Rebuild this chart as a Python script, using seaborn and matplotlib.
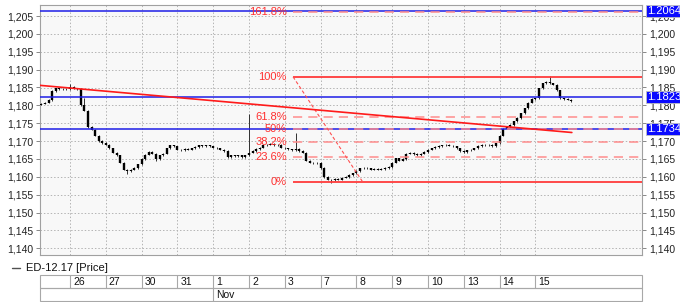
import matplotlib
matplotlib.use("Agg")
import matplotlib.pyplot as plt
import matplotlib.transforms as mtransforms
from matplotlib.patches import Rectangle
from matplotlib.ticker import FuncFormatter, MultipleLocator
import numpy as np
import pandas as pd
import seaborn as sns

# ---------------- data ----------------
day_labels = ["26", "27", "30", "31", "1", "2", "3", "7", "8", "9", "10", "13", "14", "15"]
month_label = "Nov"
month_start_day = 4           # index of "1"
bars_per_day = 10
first_bar_t = -0.8            # first bar inside the partial day before "26"

closes = [
    1.1805, 1.1808, 1.1815, 1.1840, 1.1848, 1.1845, 1.1847, 1.1846, 1.1852, 1.1848,
    1.1846, 1.1800, 1.1785, 1.1740, 1.1732, 1.1715, 1.1700, 1.1695, 1.1690, 1.1680,
    1.1668, 1.1660, 1.1640, 1.1620, 1.1615, 1.1620, 1.1625, 1.1635, 1.1650, 1.1662,
    1.1670, 1.1665, 1.1650, 1.1660, 1.1665, 1.1680, 1.1688, 1.1685, 1.1676, 1.1674,
    1.1678, 1.1676, 1.1680, 1.1684, 1.1688, 1.1686, 1.1688, 1.1685, 1.1682, 1.1680,
    1.1676, 1.1672, 1.1655, 1.1660, 1.1658, 1.1660, 1.1656, 1.1660, 1.1668, 1.1672,
    1.1678, 1.1682, 1.1688, 1.1690, 1.1692, 1.1688, 1.1690, 1.1682, 1.1680, 1.1677,
    1.1674, 1.1678, 1.1672, 1.1668, 1.1645, 1.1640, 1.1638, 1.1640, 1.1625, 1.1600,
    1.1592, 1.1590, 1.1594, 1.1592, 1.1598, 1.1600, 1.1605, 1.1610, 1.1616, 1.1624,
    1.1626, 1.1624, 1.1620, 1.1622, 1.1620, 1.1622, 1.1625, 1.1628, 1.1640, 1.1652,
    1.1645, 1.1650, 1.1665, 1.1668, 1.1664, 1.1660, 1.1665, 1.1670, 1.1676, 1.1680,
    1.1684, 1.1686, 1.1688, 1.1690, 1.1687, 1.1685, 1.1680, 1.1672, 1.1670, 1.1674,
    1.1676, 1.1680, 1.1686, 1.1690, 1.1688, 1.1690, 1.1686, 1.1694, 1.1715, 1.1735,
    1.1740, 1.1745, 1.1755, 1.1765, 1.1778, 1.1792, 1.1808, 1.1818, 1.1820, 1.1848,
    1.1862, 1.1865, 1.1862, 1.1858, 1.1842, 1.1820, 1.1818, 1.1816, 1.1812,
]
first_open = 1.1802

spike_bars = [8, 12, 58, 71, 142, 24, 32, 81]
spike_high = [1.1857, 1.1818, 1.1774, 1.1722, 1.1880, None, None, None]
spike_low = [None, None, None, None, None, 1.1610, 1.1645, 1.1585]

blue_levels = [1.2064, 1.1823, 1.1734]
blue_labels = ["1.2064", "1.1823", "1.1734"]

fib_low, fib_high = 1.1585, 1.1880
fib_ratios = [0.0, 23.6, 38.2, 50.0, 61.8, 100.0, 161.8]
fib_labels = ["0%", "23.6%", "38.2%", "50%", "61.8%", "100%", "161.8%"]
fib_start_t = 6.23
fib_diag_end_t = 8.18

trend_t = [-0.84, 14.02]
trend_price = [1.1856, 1.1724]

y_ticks = [1.140, 1.145, 1.150, 1.155, 1.160, 1.165, 1.170, 1.175,
           1.180, 1.185, 1.190, 1.195, 1.200, 1.205]
series_name = "ED-12.17 [Price]"

# ---------------- style ----------------
sns.set_style("white")
plt.rcParams["font.family"] = ["Liberation Sans", "DejaVu Sans"]

W, H = 680, 302
fig = plt.figure(figsize=(W / 100, H / 100), dpi=100, facecolor="white")
L, R, T, B = 40, 642, 5, 255
ax = fig.add_axes([L / W, (H - B) / H, (R - L) / W, (B - T) / H])
ax.set_facecolor("#f8f8f8")
x_lo, x_hi = -0.84, 15.98
ax.set_xlim(x_lo, x_hi)
ax.set_ylim(1.1381, 1.2081)
for s in ax.spines.values():
    s.set_color("#a0a0a0")
    s.set_linewidth(0.8)

# grid
for yv in y_ticks:
    ax.axhline(yv, color="#b4b4b4", lw=0.7, ls=(0, (1.5, 2)), zorder=0)
for i in range(len(day_labels)):
    ax.axvline(i, color="#b4b4b4", lw=0.7, ls=(0, (1.5, 2)), zorder=0)

# ticks
ax.yaxis.set_major_locator(MultipleLocator(0.005))
ax.yaxis.set_major_formatter(FuncFormatter(lambda v, p: f"{v:.3f}".replace(".", ",")))
ax.tick_params(axis="y", left=True, right=True, labelleft=True, labelright=True,
               length=3, width=0.7, color="#888888", labelsize=7.5, pad=2,
               labelcolor="#222222")
ax.set_xticks([])

# ---------------- candles ----------------
df = pd.DataFrame({"close": closes})
df["t"] = first_bar_t + np.arange(len(df)) / bars_per_day
df["open"] = [first_open] + closes[:-1]
df["high"] = df[["open", "close"]].max(axis=1)
df["low"] = df[["open", "close"]].min(axis=1)
for k, hi, lo in zip(spike_bars, spike_high, spike_low):
    if hi is not None:
        df.loc[k, "high"] = hi
    if lo is not None:
        df.loc[k, "low"] = lo
ax.vlines(df["t"], df["low"] - 0.0002, df["high"] + 0.0002, color="#303030", lw=0.7, zorder=3)
ax.vlines(df["t"], df["open"], df["close"], color="black", lw=1.7, zorder=4)

# ---------------- blue horizontal levels ----------------
blend = mtransforms.blended_transform_factory(ax.transAxes, ax.transData)
for lv, lab in zip(blue_levels, blue_labels):
    ax.axhline(lv, color="#1e1ee6", lw=1.1, zorder=5)
    ax.text(1.0085, lv, lab, transform=blend, ha="left", va="center", color="white",
            fontsize=8, zorder=10, clip_on=False,
            bbox=dict(facecolor="#0a0aff", edgecolor="#c0c0c0", pad=1.0, lw=0.6))

# ---------------- fibonacci ----------------
fib_prices = [fib_low + (fib_high - fib_low) * r / 100 for r in fib_ratios]
for r, p, lab in zip(fib_ratios, fib_prices, fib_labels):
    if r in (0.0, 100.0):
        ax.hlines(p, fib_start_t, x_hi, color="#ff3b3b", lw=1.3, zorder=6)
    else:
        ax.hlines(p, fib_start_t, x_hi, color="#ff8c8c", lw=1.1, ls=(0, (6, 4)), zorder=6)
    ax.text(fib_start_t - 0.17, p, lab, ha="right", va="center", color="#ff3030",
            fontsize=8, zorder=7)

diag = pd.DataFrame({"t": [fib_start_t, fib_diag_end_t], "p": [fib_high, fib_low]})
sns.lineplot(data=diag, x="t", y="p", ax=ax, color="#ff5050", lw=0.8,
             linestyle=(0, (3, 2)), zorder=6, legend=False)
ax.set_xlabel("")
ax.set_ylabel("")

# ---------------- trend line ----------------
trend = pd.DataFrame({"t": trend_t, "p": trend_price})
sns.lineplot(data=trend, x="t", y="p", ax=ax, color="#ff1a1a", lw=1.2, zorder=6, legend=False)
ax.set_xlabel("")
ax.set_ylabel("")
ax.set_xlim(x_lo, x_hi)

# ---------------- legend & date table (pixel overlay) ----------------
ov = fig.add_axes([0, 0, 1, 1], facecolor="none")
ov.set_xlim(0, W)
ov.set_ylim(H, 0)
ov.axis("off")
ov.plot([12, 20], [268, 268], color="#505050", lw=1)
ov.text(26, 268, series_name, ha="left", va="center", fontsize=8, color="#111111")

def px(i):
    return L + (i - x_lo) * (R - L) / (x_hi - x_lo)

row1_top, row1_bot, row2_bot = 275, 288, 301
edge = "#a8a8a8"
ov.add_patch(Rectangle((L, row1_top), R - L, row1_bot - row1_top, fill=False, ec=edge, lw=0.8))
ov.add_patch(Rectangle((L, row1_bot), R - L, row2_bot - row1_bot, fill=False, ec=edge, lw=0.8))
for i, lab in enumerate(day_labels):
    xb = px(i)
    ov.plot([xb, xb], [row1_top, row1_bot], color=edge, lw=0.8)
    ov.text(xb + 3, (row1_top + row1_bot) / 2 + 0.5, lab, ha="left", va="center",
            fontsize=7.5, color="#111111")
xm = px(month_start_day)
ov.plot([xm, xm], [row1_bot, row2_bot], color=edge, lw=0.8)
ov.text(xm + 3, (row1_bot + row2_bot) / 2 + 0.5, month_label, ha="left", va="center",
        fontsize=7.5, color="#111111")

fig.savefig("out.png", dpi=100, facecolor="white")
